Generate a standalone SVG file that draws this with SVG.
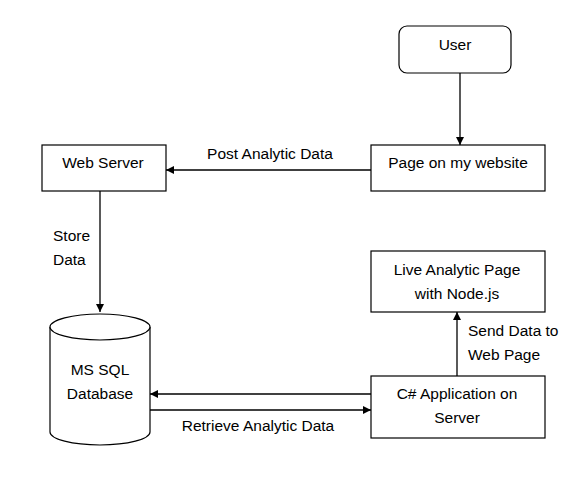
<svg xmlns="http://www.w3.org/2000/svg" width="584" height="481" viewBox="0 0 584 481">
<style>
.box{fill:#fff;stroke:#000;stroke-width:1.2}
.ln{stroke:#000;stroke-width:1.3;fill:none}
text{font-family:"Liberation Sans",Arial,sans-serif;font-size:15.5px;fill:#000}
.c{text-anchor:middle}
</style>
<defs>
<marker id="ah" viewBox="0 0 10 10" refX="10" refY="5" markerWidth="8" markerHeight="8" markerUnits="userSpaceOnUse" orient="auto">
<path d="M0,0 L10,5 L0,10 z" fill="#000"/>
</marker>
</defs>
<rect width="584" height="481" fill="#fff"/>
<g id="user"><rect class="box" x="399" y="26" width="112" height="47" rx="8"/><text class="c" x="455" y="50">User</text></g>
<g id="page"><rect class="box" x="371" y="145" width="174" height="46"/><text class="c" x="458" y="168">Page on my website</text></g>
<g id="webserver"><rect class="box" x="42" y="145" width="124" height="46"/><text class="c" x="103" y="168">Web Server</text></g>
<g id="db">
<path class="box" d="M50,327 L50,432 A50,13 0 0 0 150,432 L150,327"/>
<ellipse class="box" cx="100" cy="327" rx="50" ry="13"/>
<text class="c" x="100" y="375">MS SQL</text><text class="c" x="100" y="399">Database</text></g>
<g id="live"><rect class="box" x="371" y="251" width="174" height="61"/><text class="c" x="457" y="275">Live Analytic Page</text><text class="c" x="457" y="299">with Node.js</text></g>
<g id="csharp"><rect class="box" x="371" y="376" width="174" height="62"/><text class="c" x="457" y="399">C# Application on</text><text class="c" x="457" y="423">Server</text></g>
<g id="connectors">
<line class="ln" x1="460" y1="73" x2="460" y2="145" marker-end="url(#ah)"/>
<line class="ln" x1="371" y1="170" x2="166" y2="170" marker-end="url(#ah)"/>
<line class="ln" x1="100" y1="191" x2="100" y2="312" marker-end="url(#ah)"/>
<line class="ln" x1="371" y1="394" x2="150" y2="394" marker-end="url(#ah)"/>
<line class="ln" x1="150" y1="410" x2="371" y2="410" marker-end="url(#ah)"/>
<line class="ln" x1="457" y1="376" x2="457" y2="312" marker-end="url(#ah)"/>
<text class="c" x="270" y="159">Post Analytic Data</text>
<text x="53" y="241">Store</text><text x="53" y="265">Data</text>
<text class="c" x="258" y="431">Retrieve Analytic Data</text>
<text x="468" y="336">Send Data to</text><text x="468" y="360">Web Page</text>
</g>
</svg>
